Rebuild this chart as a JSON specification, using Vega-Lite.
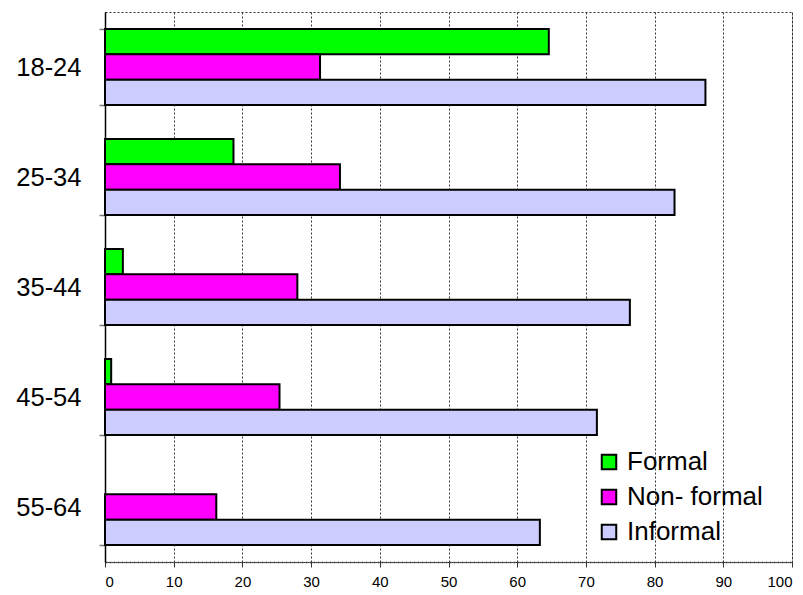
{
  "$schema": "https://vega.github.io/schema/vega-lite/v6.json",
  "width": 687,
  "height": 550,
  "autosize": {"type": "none"},
  "padding": {"left": 105, "top": 12, "right": 11, "bottom": 33},
  "background": "white",
  "config": {
    "view": {"stroke": "#333", "strokeDash": [2, 2], "strokeWidth": 1},
    "font": "Liberation Sans"
  },
  "data": {
    "values": [
      {"age": "18-24", "type": "Formal", "value": 64.6},
      {"age": "18-24", "type": "Non- formal", "value": 31.3},
      {"age": "18-24", "type": "Informal", "value": 87.4},
      {"age": "25-34", "type": "Formal", "value": 18.7},
      {"age": "25-34", "type": "Non- formal", "value": 34.2},
      {"age": "25-34", "type": "Informal", "value": 82.9},
      {"age": "35-44", "type": "Formal", "value": 2.6},
      {"age": "35-44", "type": "Non- formal", "value": 28.0},
      {"age": "35-44", "type": "Informal", "value": 76.4},
      {"age": "45-54", "type": "Formal", "value": 0.9},
      {"age": "45-54", "type": "Non- formal", "value": 25.4},
      {"age": "45-54", "type": "Informal", "value": 71.6},
      {"age": "55-64", "type": "Non- formal", "value": 16.2},
      {"age": "55-64", "type": "Informal", "value": 63.3}
    ]
  },
  "mark": {"type": "bar", "stroke": "black", "strokeWidth": 2},
  "encoding": {
    "y": {
      "field": "age",
      "type": "nominal",
      "sort": ["18-24", "25-34", "35-44", "45-54", "55-64"],
      "scale": {"paddingInner": 0.31, "paddingOuter": 0.155},
      "axis": {
        "title": null,
        "domainColor": "black",
        "domainWidth": 1.5,
        "tickBand": "extent",
        "tickColor": "#777",
        "tickSize": 6,
        "tickWidth": 1.5,
        "labelFontSize": 25.5,
        "labelColor": "black",
        "labelFont": "Liberation Sans",
        "labelPadding": 18
      }
    },
    "yOffset": {
      "field": "type",
      "type": "nominal",
      "sort": ["Formal", "Non- formal", "Informal"],
      "scale": {"domain": ["Formal", "Non- formal", "Informal"], "paddingInner": 0, "paddingOuter": 0}
    },
    "x": {
      "field": "value",
      "type": "quantitative",
      "scale": {"domain": [0, 100], "nice": false},
      "axis": {
        "title": null,
        "values": [0, 10, 20, 30, 40, 50, 60, 70, 80, 90, 100],
        "grid": true,
        "gridColor": "#333",
        "gridDash": [2, 2],
        "gridWidth": 1,
        "domainColor": "#333",
        "domainDash": [2, 2],
        "domainWidth": 1.5,
        "tickColor": "#333",
        "tickSize": 5,
        "tickWidth": 1,
        "labelFontSize": 15,
        "labelFont": "Liberation Sans",
        "labelColor": "black",
        "labelPadding": 7
      }
    },
    "color": {
      "field": "type",
      "type": "nominal",
      "sort": ["Formal", "Non- formal", "Informal"],
      "scale": {"domain": ["Formal", "Non- formal", "Informal"], "range": ["#00FF00", "#FF00FF", "#CCCCFF"]},
      "legend": {
        "title": null,
        "orient": "none",
        "legendX": 491,
        "legendY": 437,
        "symbolType": "square",
        "symbolSize": 210,
        "symbolStrokeColor": "black",
        "symbolStrokeWidth": 2,
        "labelFontSize": 26,
        "labelFont": "Liberation Sans",
        "labelColor": "black",
        "labelOffset": 5,
        "rowPadding": 9
      }
    }
  }
}
